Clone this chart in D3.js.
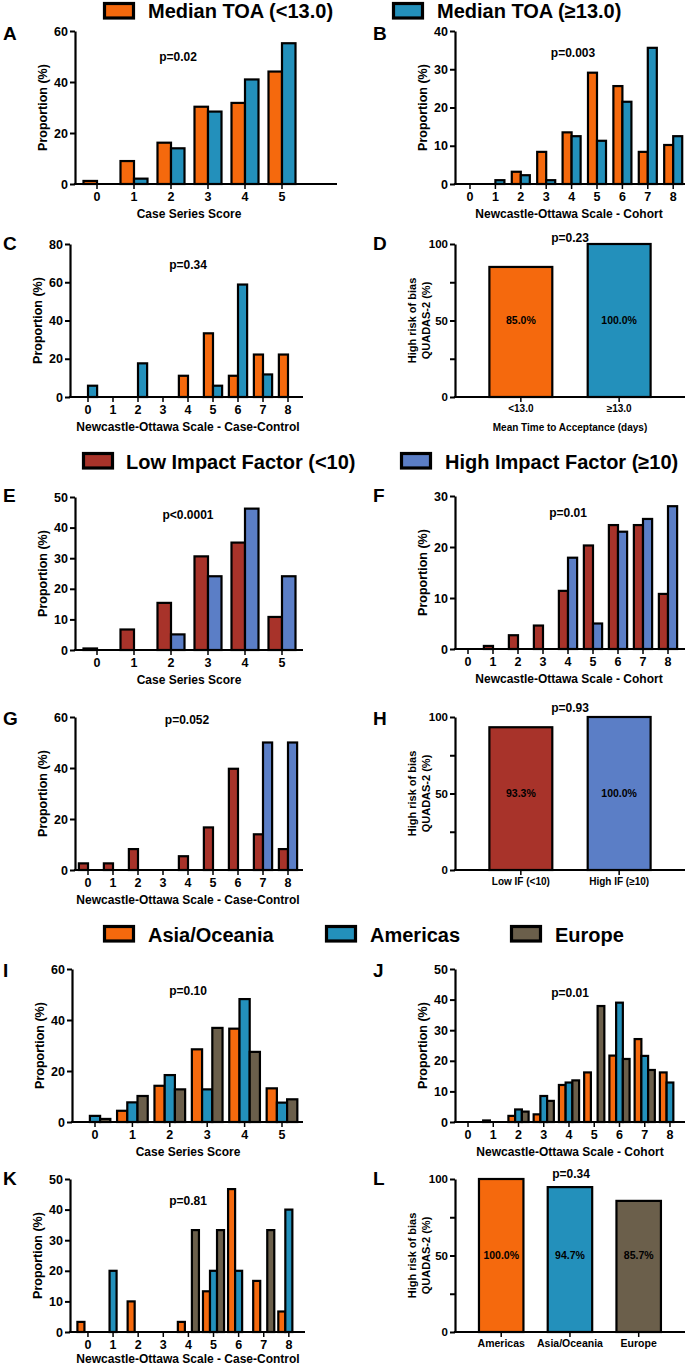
<!DOCTYPE html>
<html><head><meta charset="utf-8">
<script src="https://cdn.jsdelivr.net/npm/d3@7"></script>
<style>
body{margin:0;background:#fff}
svg{display:block}
text{font-family:"Liberation Sans",Arial,Helvetica,sans-serif;font-weight:bold;fill:#000}
</style>
</head><body>
<svg id="c" width="685" height="1367"></svg>
<script>
// ---------- DATA ----------
const csCats = ["0","1","2","3","4","5"];
const nosCats = ["0","1","2","3","4","5","6","7","8"];
const toaSeries = ["Median TOA (<13.0)", "Median TOA (\u226513.0)"];
const ifSeries = ["Low Impact Factor (<10)", "High Impact Factor (\u226510)"];
const regionSeries = ["Asia/Oceania", "Americas", "Europe"];

// A: Case series score by TOA
const aLow  = [1.2, 9.0, 16.2, 30.3, 31.8, 44.1];
const aHigh = [0, 2.1, 14.0, 28.4, 41.0, 55.2];
// B: NOS cohort by TOA
const bLow  = [0, 0, 3.2, 8.4, 13.5, 29.1, 25.6, 8.4, 10.2];
const bHigh = [0, 1.0, 2.3, 1.0, 12.5, 11.3, 21.5, 35.6, 12.5];
// C: NOS case-control by TOA
const cLow  = [0, 0, 0, 0, 11.1, 33.3, 11.1, 22.2, 22.2];
const cHigh = [5.9, 0, 17.6, 0, 0, 5.9, 58.8, 11.8, 0];
// D: QUADAS-2 by TOA
const dCats = ["<13.0", "\u226513.0"];
const dVals = [85.0, 100.0];
// E: Case series by IF
const eLow  = [0.5, 6.7, 15.4, 30.6, 35.1, 10.8];
const eHigh = [0, 0, 5.1, 24.1, 46.2, 24.1];
// F: NOS cohort by IF
const fLow  = [0, 0.6, 2.7, 4.6, 11.4, 20.3, 24.3, 24.3, 10.8];
const fHigh = [0, 0, 0, 0, 17.9, 5.0, 23.0, 25.5, 28.0];
// G: NOS case-control by IF
const gLow  = [2.6, 2.6, 8.2, 0, 5.4, 16.7, 39.7, 14.0, 8.2];
const gHigh = [0, 0, 0, 0, 0, 0, 0, 50.0, 50.0];
// H: QUADAS-2 by IF
const hCats = ["Low IF (<10)", "High IF (\u226510)"];
const hVals = [93.3, 100.0];
// I: Case series by region
const iAsia = [0, 4.4, 14.2, 28.5, 36.6, 13.2];
const iAmer = [2.4, 7.7, 18.4, 12.8, 48.2, 7.6];
const iEur  = [1.2, 10.2, 12.8, 36.9, 27.5, 8.9];
// J: NOS cohort by region
const jAsia = [0, 0.5, 2.0, 2.5, 12.1, 16.2, 21.7, 27.1, 16.2];
const jAmer = [0, 0, 4.1, 8.5, 12.9, 0, 39.0, 21.6, 12.9];
const jEur  = [0, 0, 3.4, 6.9, 13.6, 37.9, 20.6, 17.0, 0];
// K: NOS case-control by region
const kAsia = [3.3, 0, 10.0, 0, 3.3, 13.3, 46.7, 16.7, 6.7];
const kAmer = [0, 20.0, 0, 0, 0, 20.0, 20.0, 0, 40.0];
const kEur  = [0, 0, 0, 0, 33.3, 33.3, 0, 33.3, 0];
// L: QUADAS-2 by region
const lCats = ["Americas", "Asia/Oceania", "Europe"];
const lVals = [100.0, 94.7, 85.7];

const pValues = ["p=0.02","p=0.003","p=0.34","p=0.23","p<0.0001","p=0.01","p=0.052","p=0.93","p=0.10","p=0.01","p=0.81","p=0.34"];

// ---------- STYLE ----------
const C = {orange:"#F5690D", blue:"#2390BB", red:"#A8332A", peri:"#5B7EC6", brown:"#6B5F4B"};
const svg = d3.select("#c");
const FONT = 12;
const TICKFONT = 12.5;
const BAR_SW = 2.2;

// ---------- LEGENDS ----------
const legendRows = [
  {names: toaSeries, colors:[C.orange, C.blue], sx:[103, 392], sy:2, tx:[148, 437], base:18},
  {names: ifSeries, colors:[C.red, C.peri], sx:[82, 400], sy:452, tx:[126, 445], base:469},
  {names: regionSeries, colors:[C.orange, C.blue, C.brown], sx:[103, 325, 510], sy:925, tx:[148, 370, 555], base:942}
];
legendRows.forEach(r => {
  r.names.forEach((n, i) => {
    svg.append("rect").attr("x", r.sx[i] + 1.5).attr("y", r.sy + 1.5)
      .attr("width", 29).attr("height", 14.5)
      .attr("fill", r.colors[i]).attr("stroke", "#000").attr("stroke-width", 3.2);
    svg.append("text").attr("x", r.tx[i]).attr("y", r.base)
      .style("font-size", "20px").text(n);
  });
});

// ---------- PANELS ----------
function yAxis(g, y, p, fmt, fs) {
  const ax = g.append("g").attr("transform", `translate(${p.x0},0)`)
    .call(d3.axisLeft(y).tickValues(p.ticks).tickSize(5).tickSizeOuter(0).tickPadding(2).tickFormat(fmt));
  ax.select(".domain").attr("stroke", "#000").attr("stroke-width", 2.2);
  ax.selectAll(".tick line").attr("stroke", "#000").attr("stroke-width", 2);
  ax.selectAll(".tick text").style("font-size", fs + "px").style("font-family", null);
}
function xAxis(g, x, p, fs) {
  g.append("line").attr("x1", p.x0 - 1.1).attr("x2", p.x1).attr("y1", p.yBot).attr("y2", p.yBot)
    .attr("stroke", "#000").attr("stroke-width", 2.2);
  const ax = g.append("g").attr("transform", `translate(0,${p.yBot})`)
    .call(d3.axisBottom(x).tickSize(5).tickSizeOuter(0).tickPadding(3));
  ax.select(".domain").remove();
  ax.selectAll(".tick line").attr("stroke", "#000").attr("stroke-width", 1.5);
  ax.selectAll(".tick text").style("font-size", fs + "px").style("font-family", null);
}
function common(g, p) {
  svg.append("text").attr("x", p.lx).attr("y", p.ly).style("font-size", "19px").text(p.letter);
  svg.append("text").attr("x", p.px).attr("y", p.py).attr("text-anchor", "middle")
    .style("font-size", FONT + "px").text(p.pval);
  if (p.xTitle) svg.append("text").attr("x", p.tx).attr("y", p.yBot + (p.titleOff || 34)).attr("text-anchor", "middle")
    .style("font-size", (p.xTitleSize || FONT) + "px").text(p.xTitle);
}

function grouped(p) {
  const g = svg.append("g");
  const y = d3.scaleLinear().domain([0, p.max]).range([p.yBot, p.yTop]);
  const x = d3.scaleBand().domain(p.cats).range(p.band).paddingInner(p.pad).paddingOuter(p.pad / 2);
  const xs = d3.scaleBand().domain(d3.range(p.series.length)).range([0, x.bandwidth()]);
  p.series.forEach((vals, i) => {
    g.selectAll(null)
      .data(p.cats.map((c, j) => ({c, v: vals[j]})).filter(d => d.v > 0))
      .join("rect")
      .attr("x", d => x(d.c) + xs(i)).attr("y", d => y(d.v))
      .attr("width", xs.bandwidth()).attr("height", d => y(0) - y(d.v))
      .attr("fill", p.colors[i]).attr("stroke", "#000").attr("stroke-width", BAR_SW);
  });
  yAxis(g, y, p, d3.format("d"), TICKFONT);
  xAxis(g, x, p, TICKFONT);
  g.append("text").attr("transform", `translate(${p.x0 - 32},${(p.yTop + p.yBot) / 2}) rotate(-90)`)
    .attr("text-anchor", "middle").attr("dy", "0.35em").style("font-size", "12.5px").text("Proportion (%)");
  common(g, p);
}

function simple(p) {
  const g = svg.append("g");
  const y = d3.scaleLinear().domain([0, 100]).range([p.yBot, p.yTop]);
  const x = d3.scaleBand().domain(p.cats).range(p.band).padding(p.pad);
  const data = p.cats.map((c, j) => ({c, v: p.vals[j], col: p.colors[j]}));
  g.selectAll(null).data(data).join("rect")
    .attr("x", d => x(d.c)).attr("y", d => y(d.v))
    .attr("width", x.bandwidth()).attr("height", d => y(0) - y(d.v))
    .attr("fill", d => d.col).attr("stroke", "#000").attr("stroke-width", BAR_SW);
  g.selectAll(null).data(data).join("text")
    .attr("x", d => x(d.c) + x.bandwidth() / 2).attr("y", y(50)).attr("dy", "0.35em")
    .attr("text-anchor", "middle").style("font-size", "10.5px")
    .text(d => d.v.toFixed(1) + "%");
  yAxis(g, y, p, d => (d % 50 === 0 ? d : ""), 11.5);
  xAxis(g, x, p, p.catSize);
  const cy = (p.yTop + p.yBot) / 2;
  g.append("text").attr("transform", `translate(${p.x0 - 43},${cy}) rotate(-90)`)
    .attr("text-anchor", "middle").attr("dy", "0.35em").style("font-size", "11px").text("High risk of bias");
  g.append("text").attr("transform", `translate(${p.x0 - 29},${cy}) rotate(-90)`)
    .attr("text-anchor", "middle").attr("dy", "0.35em").style("font-size", "11px").text("QUADAS-2 (%)");
  common(g, p);
}

const T10 = [0, 10, 20, 30, 40, 50];
const T20 = [0, 20, 40, 60];
const TQ = [0, 25, 50, 75, 100];
const two = 0.27, three = 0.18;

grouped({letter:"A", lx:3, ly:40, cats:csCats, series:[aLow, aHigh], colors:[C.orange, C.blue], max:60, ticks:T20,
  x0:75, x1:337, yTop:31, yBot:184, band:[78.5, 300.5], pad:two, xTitle:"Case Series Score", tx:189, pval:pValues[0], px:178, py:61});
grouped({letter:"B", lx:373, ly:40, cats:nosCats, series:[bLow, bHigh], colors:[C.orange, C.blue], max:40, ticks:[0,10,20,30,40],
  x0:455, x1:685, yTop:31, yBot:184, band:[457.3, 685.9], pad:0.29, xTitle:"Newcastle-Ottawa Scale - Cohort", tx:569, pval:pValues[1], px:573, py:57});
grouped({letter:"C", lx:3, ly:250, cats:nosCats, series:[cLow, cHigh], colors:[C.orange, C.blue], max:80, ticks:[0,20,40,60,80],
  x0:70, x1:303, yTop:244, yBot:397, band:[75.5, 300.5], pad:two, xTitle:"Newcastle-Ottawa Scale - Case-Control", tx:188, pval:pValues[2], px:188, py:269});
simple({letter:"D", lx:373, ly:250, cats:dCats, vals:dVals, colors:[C.orange, C.blue], ticks:TQ, catSize:10,
  x0:455, x1:685, yTop:244, yBot:397, band:[454, 686], pad:0.36, xTitle:"Mean Time to Acceptance (days)", xTitleSize:10, tx:570, pval:pValues[3], px:570, py:242});
grouped({letter:"E", lx:3, ly:502, cats:csCats, series:[eLow, eHigh], colors:[C.red, C.peri], max:50, ticks:T10,
  x0:75, x1:303, yTop:497, yBot:650, band:[78.5, 300.5], pad:two, xTitle:"Case Series Score", tx:189, pval:pValues[4], px:188, py:519});
grouped({letter:"F", lx:373, ly:502, cats:nosCats, series:[fLow, fHigh], colors:[C.red, C.peri], max:30, ticks:[0,10,20,30],
  x0:455, x1:685, yTop:496, yBot:649, band:[455.5, 680.5], pad:0.27, xTitle:"Newcastle-Ottawa Scale - Cohort", tx:569, pval:pValues[5], px:568, py:517});
grouped({letter:"G", lx:3, ly:725, cats:nosCats, series:[gLow, gHigh], colors:[C.red, C.peri], max:60, ticks:T20,
  x0:75, x1:303, yTop:717, yBot:870, band:[75.5, 300.5], pad:two, xTitle:"Newcastle-Ottawa Scale - Case-Control", tx:188, pval:pValues[6], px:187, py:724});
simple({letter:"H", lx:373, ly:725, cats:hCats, vals:hVals, colors:[C.red, C.peri], ticks:TQ, catSize:10,
  x0:455, x1:685, yTop:717, yBot:870, band:[454, 686], pad:0.36, pval:pValues[7], px:570, py:712});
grouped({letter:"I", lx:3, ly:977, cats:csCats, series:[iAsia, iAmer, iEur], colors:[C.orange, C.blue, C.brown], max:60, ticks:T20,
  x0:72, x1:303, yTop:969, yBot:1122, band:[76.3, 300.7], pad:three, xTitle:"Case Series Score", tx:188, pval:pValues[8], px:188, py:995});
grouped({letter:"J", lx:373, ly:977, cats:nosCats, series:[jAsia, jAmer, jEur], colors:[C.orange, C.blue, C.brown], max:50, ticks:T10,
  x0:455, x1:685, yTop:969, yBot:1122, band:[455.4, 682.6], pad:0.2, xTitle:"Newcastle-Ottawa Scale - Cohort", tx:570, pval:pValues[9], px:570, py:997});
grouped({letter:"K", lx:3, ly:1185, cats:nosCats, series:[kAsia, kAmer, kEur], colors:[C.orange, C.blue, C.brown], max:50, ticks:T10,
  x0:70, x1:305, yTop:1179, yBot:1332, band:[75.4, 301.4], pad:0.16, xTitle:"Newcastle-Ottawa Scale - Case-Control", titleOff:31, tx:188, pval:pValues[10], px:188, py:1205});
simple({letter:"L", lx:373, ly:1185, cats:lCats, vals:lVals, colors:[C.orange, C.blue, C.brown], ticks:TQ, catSize:10.5,
  x0:455, x1:685, yTop:1179, yBot:1332, band:[454.7, 685.2], pad:0.353, pval:pValues[11], px:571, py:1178});
</script>
</body></html>
